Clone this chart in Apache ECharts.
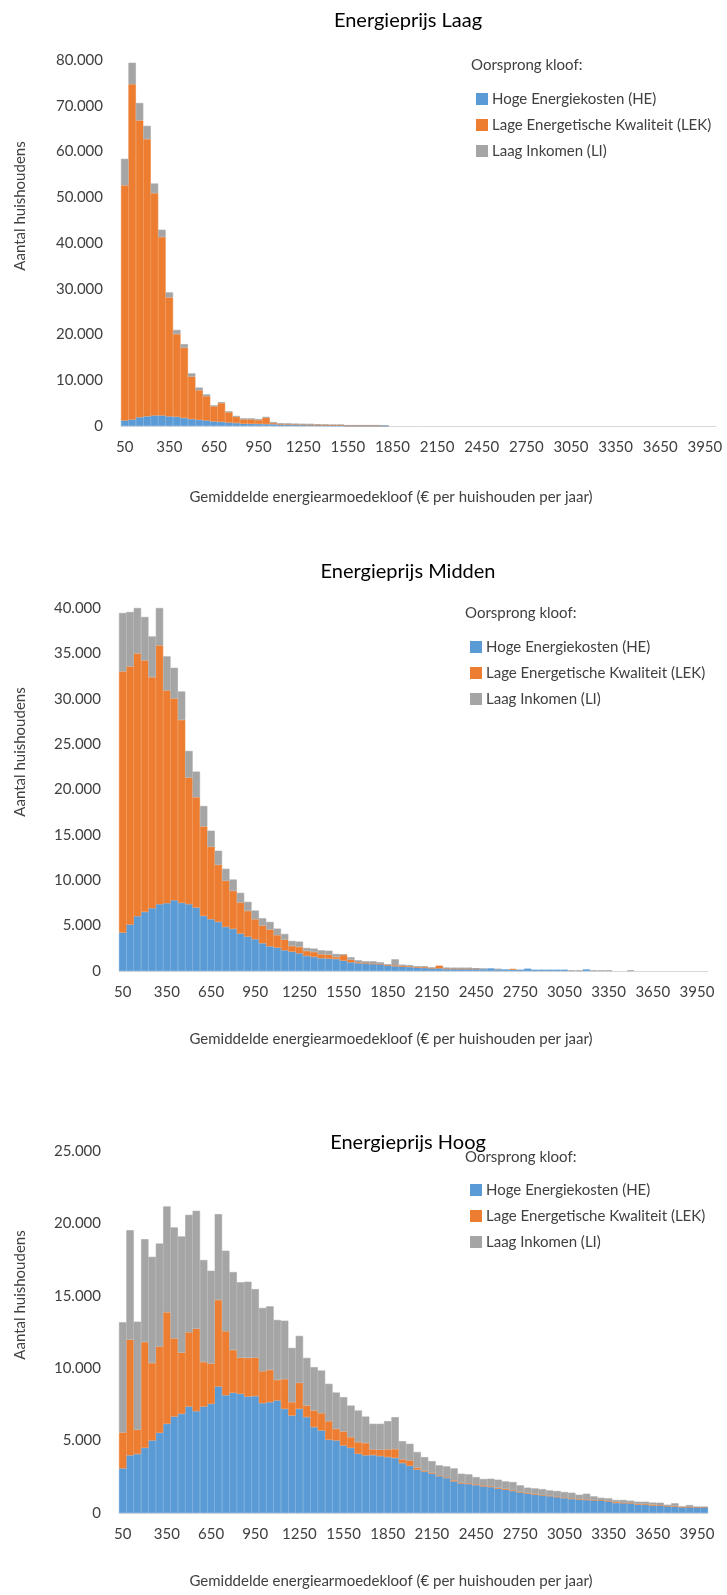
<!DOCTYPE html>
<html>
<head>
<meta charset="utf-8">
<title>Energiearmoedekloof</title>
<script src="https://cdn.jsdelivr.net/npm/echarts@6/dist/echarts.min.js"></script>
<style>
  html, body { margin: 0; padding: 0; background: #fff; }
  #chart { width: 727px; height: 1595px; }
</style>
</head>
<body>
<div id="chart"></div>
<script>
// bins: gemiddelde energiearmoedekloof (euro per huishouden per jaar)
const categories = ['50','100','150','200','250','300','350','400','450','500','550','600','650','700','750','800','850','900','950','1000',
  '1050','1100','1150','1200','1250','1300','1350','1400','1450','1500','1550','1600','1650','1700','1750','1800','1850','1900','1950','2000',
  '2050','2100','2150','2200','2250','2300','2350','2400','2450','2500','2550','2600','2650','2700','2750','2800','2850','2900','2950','3000',
  '3050','3100','3150','3200','3250','3300','3350','3400','3450','3500','3550','3600','3650','3700','3750','3800','3850','3900','3950','4000']

const seriesNames = ['Hoge Energiekosten (HE)', 'Lage Energetische Kwaliteit (LEK)', 'Laag Inkomen (LI)']
const colors = ['#5B9BD5', '#ED7D31', '#A5A5A5']

// Energieprijs Laag
const laagHE = [1200,1400,1900,2100,2300,2300,2100,2000,1750,1500,1350,1200,1000,900,750,650,500,480,450,420,
  380,300,280,250,220,200,150,120,100,100,50,50,50,50,50,30,0,0,0,0,
  0,0,0,0,0,0,0,0,0,0,0,0,0,0,0,0,0,0,0,0,0,0,0,0,0,0,0,0,0,0,0,0,0,0,0,0,0,0,0,0]
const laagLEK = [51400,73300,64900,60600,48600,39000,26000,18100,15350,9300,6450,5300,3300,4100,2250,1350,950,970,850,1380,
  270,150,150,100,100,100,100,100,80,80,20,20,20,20,20,0,0,0,0,0,
  0,0,0,0,0,0,0,0,0,0,0,0,0,0,0,0,0,0,0,0,0,0,0,0,0,0,0,0,0,0,0,0,0,0,0,0,0,0,0,0]
const laagLI = [5800,4700,3800,2900,2100,1600,1100,900,800,700,600,400,200,200,200,200,200,200,200,200,
  200,120,100,150,150,150,100,80,80,80,100,100,100,100,100,60,0,0,0,0,
  0,0,0,0,0,0,0,0,0,0,0,0,0,0,0,0,0,0,0,0,0,0,0,0,0,0,0,0,0,0,0,0,0,0,0,0,0,0,0,0]

// Energieprijs Midden
const middenHE = [4230,5120,6040,6510,6920,7360,7470,7800,7510,7360,6990,6070,5700,5410,4860,4640,4120,3790,3500,3050,
  2720,2580,2280,2130,1950,1660,1550,1400,1360,1320,1140,960,850,800,780,740,590,520,480,440,
  370,340,290,290,220,220,220,220,220,220,290,180,180,150,150,260,150,150,150,150,
  150,0,0,180,0,0,0,0,0,0,0,0,0,0,0,0,0,0,0,0]
const middenLEK = [28780,28440,28960,27710,25460,28520,23440,22230,20160,13950,12150,9860,7990,6290,5080,4190,3420,2830,2200,1950,
  1840,1360,1180,630,700,550,550,440,440,230,640,290,110,40,40,40,40,110,110,80,
  70,100,20,300,70,40,40,40,40,0,0,0,0,70,0,0,0,0,0,0,
  0,0,0,0,0,0,0,0,0,0,0,0,0,0,0,0,0,0,0,0]
const middenLI = [6440,6000,5000,4790,4490,4120,3760,3380,3130,2940,2830,2250,1770,1550,1320,1250,1070,1000,960,810,
  850,730,620,550,590,330,370,440,440,330,40,260,220,230,250,180,110,660,110,110,
  80,80,70,0,80,110,110,110,30,40,0,40,0,0,0,0,0,0,0,0,
  0,80,80,0,75,75,75,0,0,75,0,0,0,0,0,0,0,0,0,0]

// Energieprijs Hoog
const hoogHE = [3080,3980,4070,4500,5010,5540,6160,6660,6850,7350,7030,7350,7540,8730,8130,8300,8230,8040,8070,7580,
  7650,7770,7190,6730,7190,6620,5930,5700,5060,5010,4660,4500,4090,3980,4000,3930,3860,3800,3450,3260,
  2990,2850,2710,2550,2420,2180,2030,2000,1930,1840,1790,1680,1610,1520,1420,1330,1260,1220,1170,1100,
  1030,970,920,900,870,850,800,690,680,660,575,570,505,500,460,440,390,400,370,370]
const hoogLEK = [2480,7990,1680,7310,5350,5950,7700,5400,4230,5130,5700,3080,2780,5980,4420,2960,2500,2670,2660,2210,
  2230,1420,2050,920,1800,800,1150,1190,1280,800,970,740,800,850,390,440,530,610,250,370,
  140,50,50,40,40,70,40,50,50,70,60,60,60,60,50,50,50,40,40,40,
  40,40,40,40,30,30,30,70,30,30,45,50,70,30,20,40,10,20,10,10]
const hoogLI = [7610,7560,7460,7100,7330,7120,7310,7660,8020,8110,8140,7040,6410,5930,5560,5380,5200,5260,4730,4370,
  4390,4140,4040,3750,3240,3290,2990,2950,2580,2510,2370,2180,2190,1830,1770,1790,1950,2210,1260,1150,
  1080,960,820,700,760,830,640,620,500,440,520,560,510,560,440,370,390,390,350,380,
  380,390,300,390,250,170,180,140,190,160,160,160,145,180,95,190,40,130,60,60]

const yTicks = [
  { max: 80000, interval: 10000 },
  { max: 40000, interval: 5000 },
  { max: 25000, interval: 5000 }
]

const panels = [
  { title: 'Energieprijs Laag', data: [laagHE, laagLEK, laagLI], grid: { left: 121, width: 595, top: 60, height: 366 },
    titleY: 21, legendTop: 86, legendLeft: 471, headY: 65, yNameY: 206, xNameY: 497 },
  { title: 'Energieprijs Midden', data: [middenHE, middenLEK, middenLI], grid: { left: 119, width: 589, top: 608, height: 363 },
    titleY: 572, legendTop: 634, legendLeft: 465, headY: 613, yNameY: 752, xNameY: 1039 },
  { title: 'Energieprijs Hoog', data: [hoogHE, hoogLEK, hoogLI], grid: { left: 119, width: 589, top: 1151, height: 362 },
    titleY: 1143, legendTop: 1177, legendLeft: 465, headY: 1157, yNameY: 1295, xNameY: 1581 }
]

const font = 'Lato, "Open Sans", sans-serif'
const dotted = (v) => String(v).replace(/\B(?=(\d{3})+(?!\d))/g, '.')
// empty bins are left out so no border is drawn on the baseline
const dropZero = (v) => (v === 0 ? '-' : v)

const grids = []
const xAxes = []
const yAxes = []
const legends = []
const series = []
const graphics = []

panels.forEach((p, i) => {
  grids.push(p.grid)
  xAxes.push({
    type: 'category',
    gridIndex: i,
    data: categories,
    axisTick: { show: false },
    axisLine: { lineStyle: { color: '#d9d9d9', width: 1 } },
    axisLabel: { interval: 5, margin: 14, color: '#404040', fontSize: 15, fontFamily: font }
  })
  yAxes.push({
    type: 'value',
    gridIndex: i,
    min: 0,
    max: yTicks[i].max,
    interval: yTicks[i].interval,
    splitLine: { show: false },
    axisLine: { show: false },
    axisTick: { show: false },
    axisLabel: { margin: 18, color: '#404040', fontSize: 15, fontFamily: font, formatter: dotted }
  })
  legends.push({
    data: seriesNames,
    orient: 'vertical',
    left: p.legendLeft,
    top: p.legendTop,
    icon: 'rect',
    itemWidth: 10,
    itemHeight: 10,
    itemGap: 10,
    selectedMode: false,
    textStyle: { fontSize: 15, lineHeight: 16, color: '#404040', fontFamily: font }
  })
  p.data.forEach((vals, k) => {
    series.push({
      name: seriesNames[k],
      type: 'bar',
      stack: 'panel' + i,
      xAxisIndex: i,
      yAxisIndex: i,
      data: vals.map(dropZero),
      barCategoryGap: '0%',
      itemStyle: { color: colors[k], borderColor: colors[k], borderWidth: 0.6 },
      emphasis: { disabled: true },
      animation: false
    })
  })
  graphics.push(
    { type: 'text', x: 408, y: p.titleY,
      style: { text: p.title, fontSize: 20, fontFamily: font, fill: '#000', textAlign: 'center', textVerticalAlign: 'middle' } },
    { type: 'text', x: p.legendLeft, y: p.headY,
      style: { text: 'Oorsprong kloof:', fontSize: 15, fontFamily: font, fill: '#404040', textVerticalAlign: 'middle' } },
    { type: 'text', x: 20, y: p.yNameY, rotation: Math.PI / 2,
      style: { text: 'Aantal huishoudens', fontSize: 15, fontFamily: font, fill: '#404040', textAlign: 'center', textVerticalAlign: 'middle' } },
    { type: 'text', x: 391, y: p.xNameY,
      style: { text: 'Gemiddelde energiearmoedekloof (€ per huishouden per jaar)', fontSize: 15, fontFamily: font, fill: '#404040', textAlign: 'center', textVerticalAlign: 'middle' } }
  )
})

const option = {
  backgroundColor: '#fff',
  animation: false,
  grid: grids,
  xAxis: xAxes,
  yAxis: yAxes,
  legend: legends,
  series: series,
  graphic: graphics
}

const chart = echarts.init(document.getElementById('chart'), null, { renderer: 'canvas' })
chart.setOption(option)
</script>
</body>
</html>
